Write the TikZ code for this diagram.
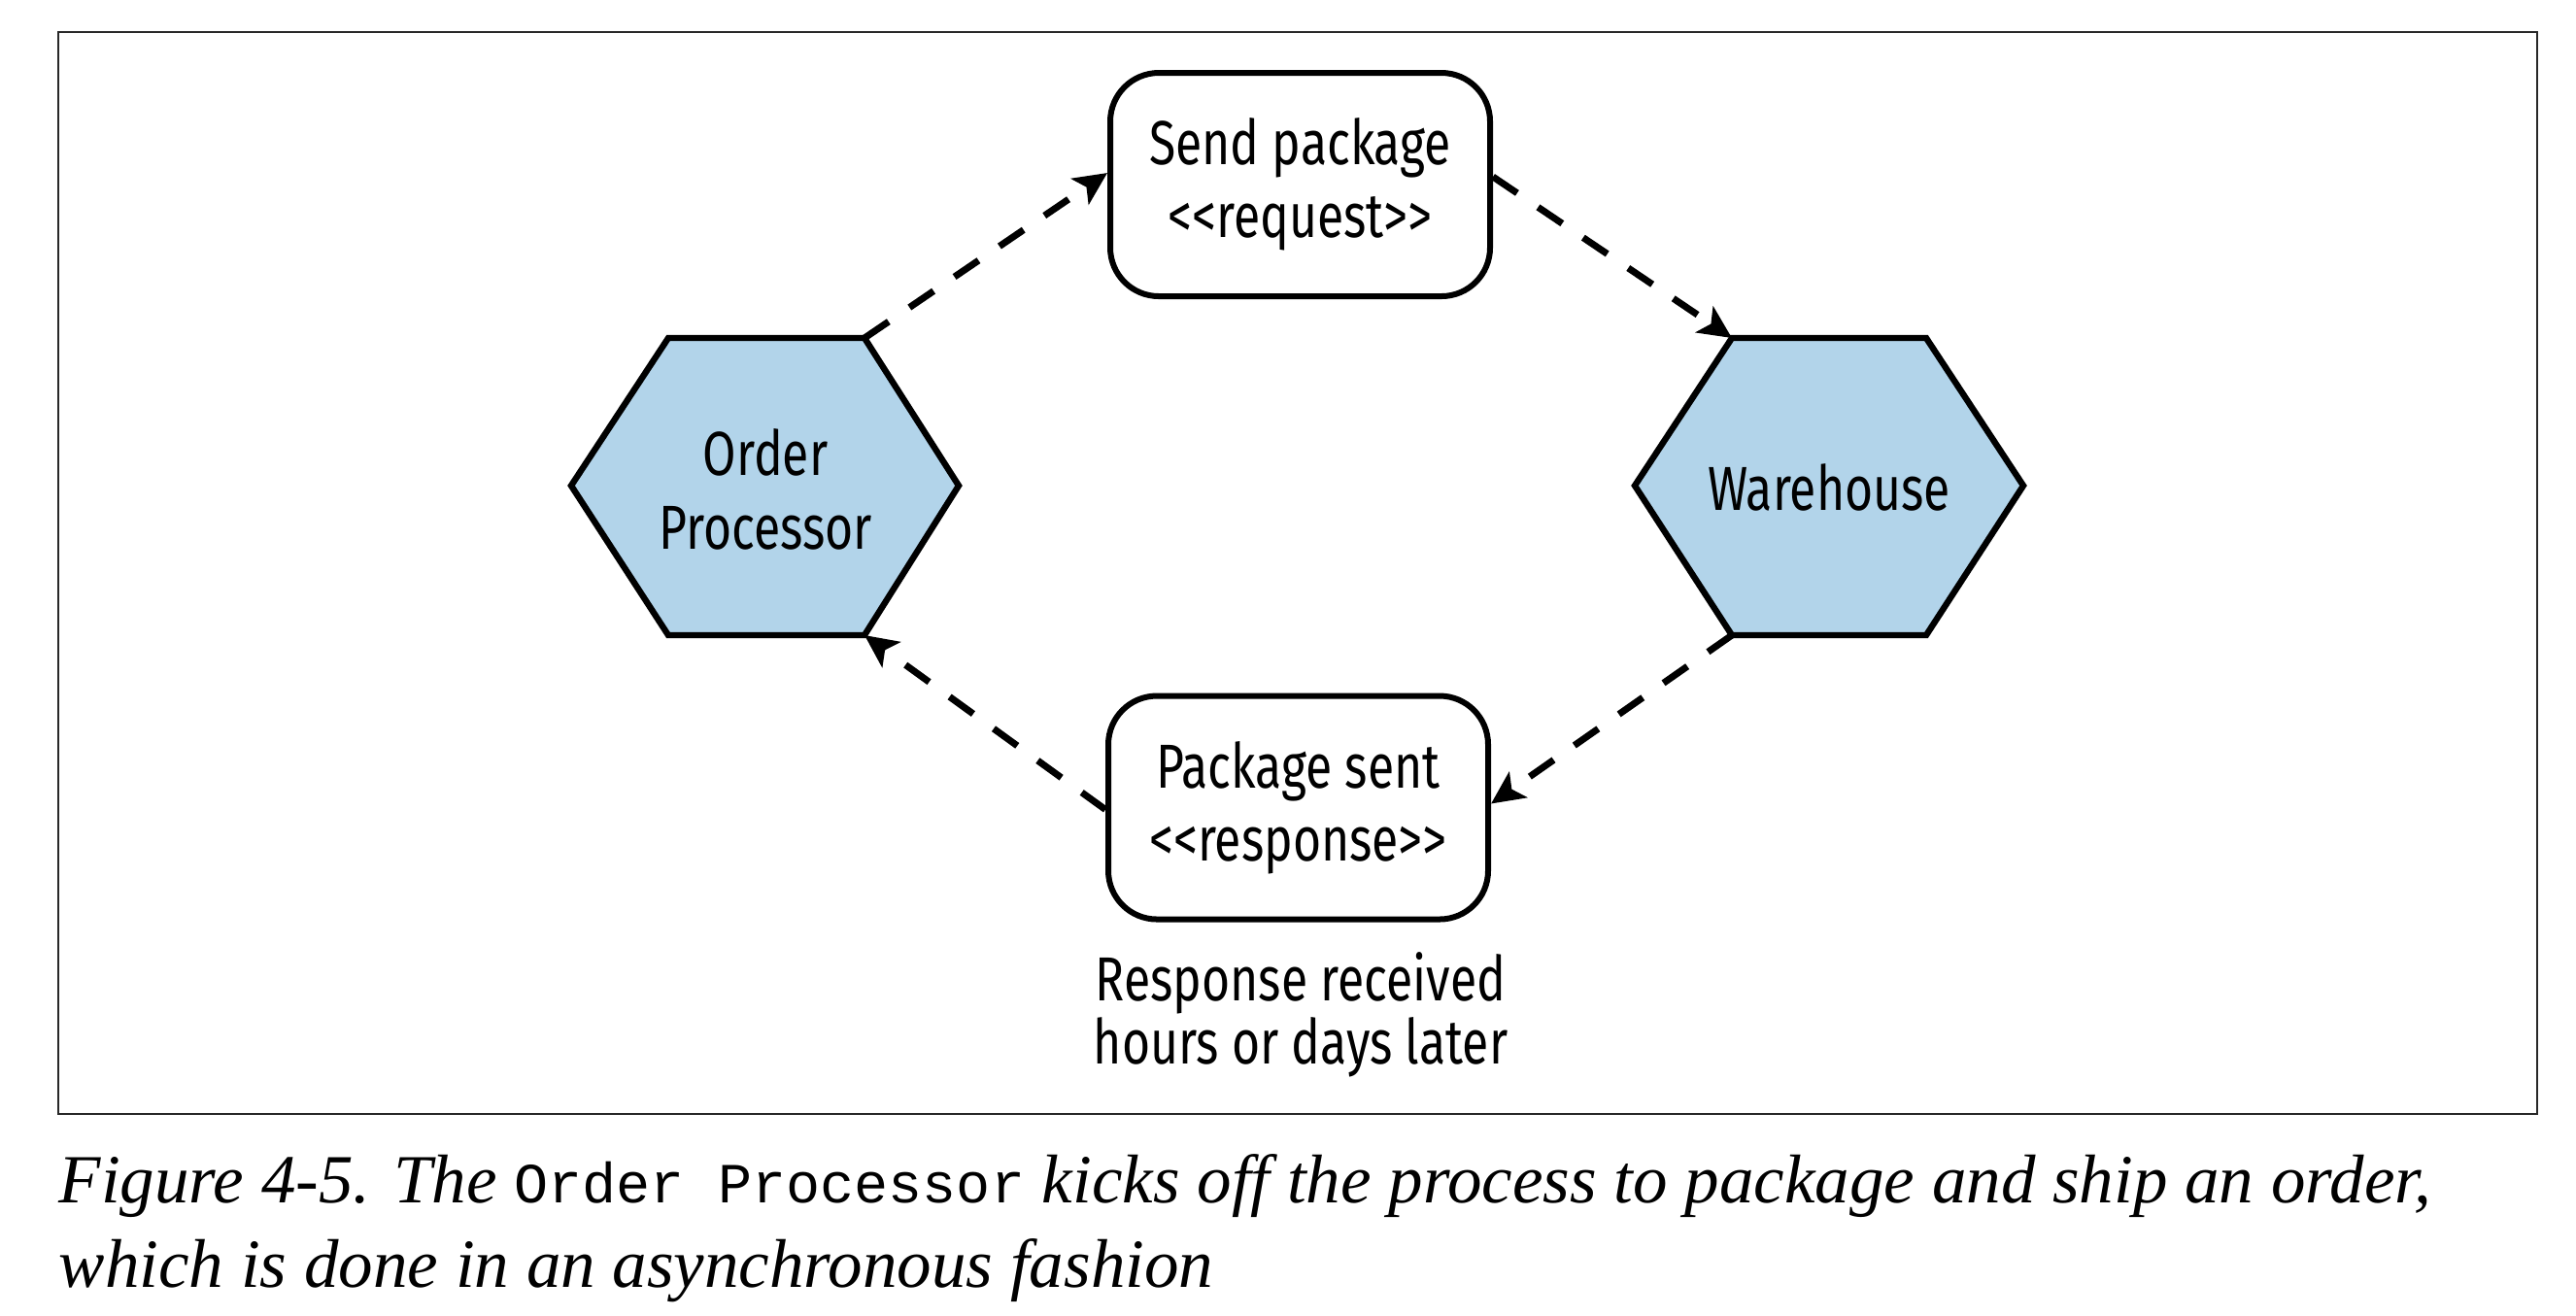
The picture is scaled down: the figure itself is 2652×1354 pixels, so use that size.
\documentclass[tikz,border=0pt]{standalone}
\usepackage{fontspec}
\setmainfont{Fira Sans}[FakeStretch=0.78]
\newfontfamily\capfont{Liberation Serif}
\newfontfamily\capmono{Liberation Mono}
\usetikzlibrary{arrows.meta}
\definecolor{hexblue}{RGB}{178,212,234}
\definecolor{framegray}{RGB}{40,40,40}
\tikzset{
  hexshape/.style={draw=black, fill=hexblue, line width=1.6pt, line join=miter},
  msgbox/.style={draw=black, line width=1.5pt, rounded corners=12.5pt,
    minimum width=97.75pt, minimum height=57.5pt, inner sep=0pt, align=center,
    font=\fontsize{16}{18.75}\selectfont},
  hexlabel/.style={align=center, inner sep=0pt, font=\fontsize{16}{19}\selectfont},
  flow/.style={line width=1.75pt, dash pattern=on 7.5pt off 6.5pt,
    -{Stealth[length=8.5pt,width=8pt,inset=2pt]}, shorten >=0pt},
  note/.style={align=center, inner sep=0pt, font=\fontsize{16}{15}\selectfont},
  caption/.style={anchor=base west, inner sep=0pt,
    font=\capfont\itshape\fontsize{17.75}{22}\selectfont}
}
\begin{document}
\begin{tikzpicture}[x=0.25pt, y=-0.25pt]
\useasboundingbox (0,0) rectangle (2652,1354);
% frame
\draw[framegray, line width=0.5pt] (60,33) rectangle (2612,1147);

% Order Processor hexagon
\coordinate (op-l) at (588,500);
\coordinate (op-tl) at (688,348);
\coordinate (op-tr) at (890,348);
\coordinate (op-r) at (987,500);
\coordinate (op-br) at (890,654);
\coordinate (op-bl) at (688,654);
\draw[hexshape] (op-l) -- (op-tl) -- (op-tr) -- (op-r) -- (op-br) -- (op-bl) -- cycle;
\node[hexlabel] (op) at (788,504) {Order\\Processor};

% Warehouse hexagon
\coordinate (wh-l) at (1683,500);
\coordinate (wh-tl) at (1783,348);
\coordinate (wh-tr) at (1983,348);
\coordinate (wh-r) at (2083,500);
\coordinate (wh-br) at (1983,654);
\coordinate (wh-bl) at (1783,654);
\draw[hexshape] (wh-l) -- (wh-tl) -- (wh-tr) -- (wh-r) -- (wh-br) -- (wh-bl) -- cycle;
\node[hexlabel] (wh) at (1883,502) {Warehouse};

% message boxes
\node[msgbox] (send) at (1338.5,190) {Send package\\<{}<request>{}>};
\node[msgbox] (sent) at (1336.5,831.5) {Package sent\\<{}<response>{}>};

\node[note] (later) at (1339,1045) {Response received\\hours or days later};

% connectors
\draw[flow] (op-tr) -- ([yshift=3pt]send.west);
\draw[flow] ([yshift=2pt]send.east) -- (wh-tl);
\draw[flow] (wh-bl) -- ([yshift=1pt]sent.east);
\draw[flow] ([yshift=-0.5pt]sent.west) -- (op-br);

% caption
\node[caption] (cap1) at (60,1238) {Figure 4-5. The {\capmono\upshape\fontsize{14.6}{22}\selectfont Order Processor} kicks off the process to package and ship an order,};
\node[caption] (cap2) at (60,1325) {which is done in an asynchronous fashion};
\end{tikzpicture}
\end{document}
